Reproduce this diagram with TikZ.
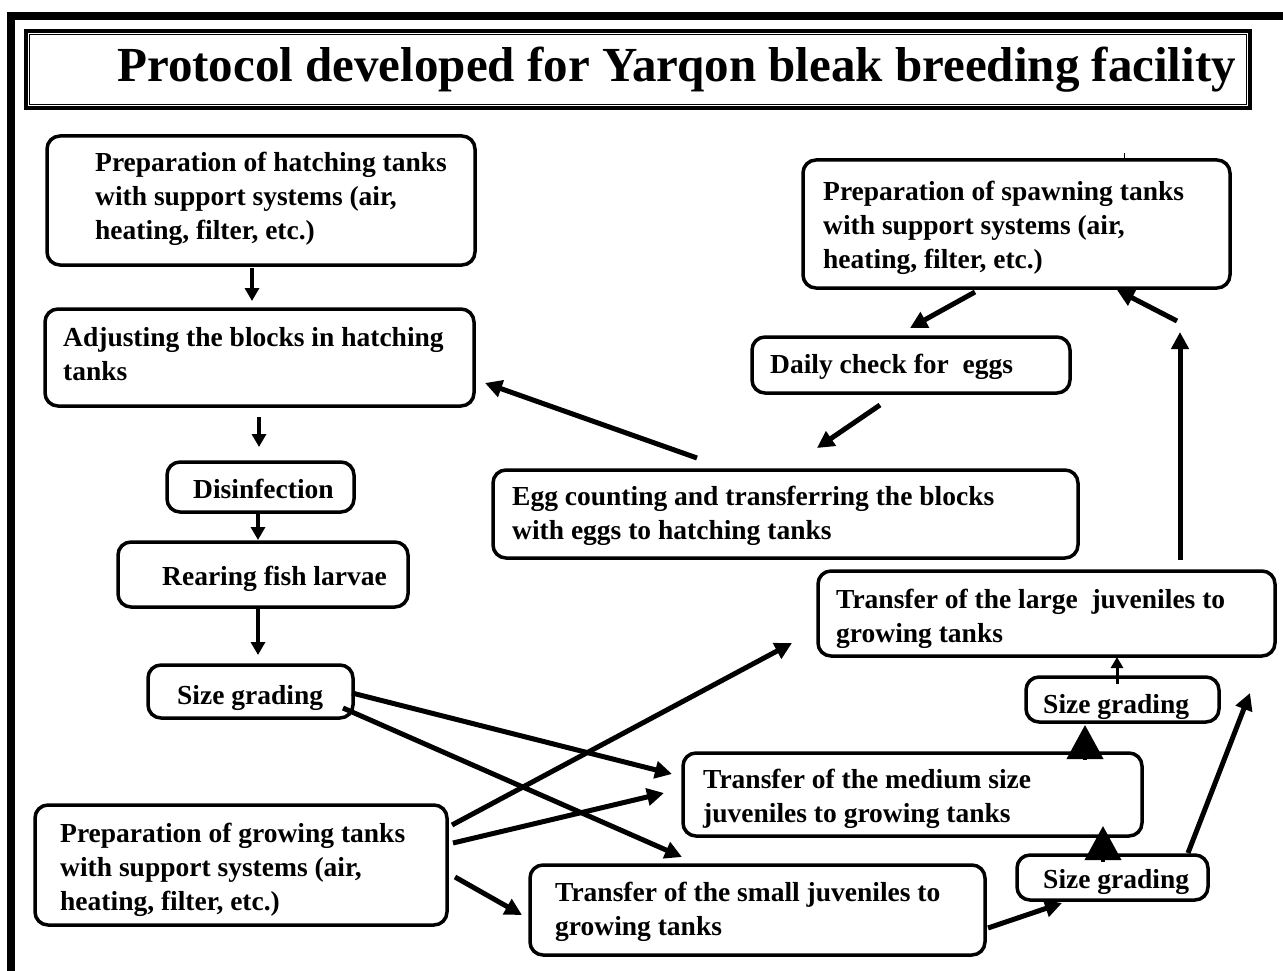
\documentclass[tikz,border=0pt]{standalone}
\usepackage{fontspec}
\setmainfont{Liberation Serif}
\usetikzlibrary{arrows.meta}
\begin{document}
\begin{tikzpicture}[x=1pt,y=-1pt,
  box/.style={draw,line width=3.5pt,rounded corners=13pt,inner sep=0pt,anchor=center},
  txt/.style={font=\bfseries\fontsize{27.5}{34}\selectfont,align=left,inner sep=0pt,anchor=base west},
  arr/.style={line width=5pt,-{Triangle[length=17pt,width=17pt]}},
  varr/.style={line width=4pt,-{Triangle[length=13pt,width=14pt]}},
  bigarr/.style={line width=4pt,-{Triangle[length=34pt,width=36pt]}}]
\useasboundingbox (0,0) rectangle (1283,971);
% outer frame
\draw[line width=8pt] (1283,16) -- (11,16) -- (11,971);
% title
\node[draw,line width=3.5pt,minimum width=1224pt,minimum height=77pt,inner sep=0pt] (title) at (638,69.5) {};
\draw[line width=1pt] (title.north west) ++(5,5) rectangle ([xshift=-5pt,yshift=5pt]title.south east);
\node[font=\bfseries\fontsize{49}{55}\selectfont,inner sep=0pt,anchor=base west] (titletxt) at (117,82) {Protocol developed for Yarqon bleak breeding facility};
% boxes (text nodes are anchored at the baseline of their last line)
\node[box,minimum width=428pt,minimum height=129pt] (n1) at (261,200.5) {};
\node[txt] (t1) at (95,239) {Preparation of hatching tanks\\with support systems (air,\\heating, filter, etc.)};
\node[box,minimum width=429pt,minimum height=97pt] (n2) at (259.5,357.5) {};
\node[txt] (t2) at (63,380) {Adjusting the blocks in hatching\\tanks};
\node[box,minimum width=187pt,minimum height=50pt] (n3) at (260.5,487) {};
\node[txt] (t3) at (193,498) {Disinfection};
\node[box,minimum width=290pt,minimum height=65pt] (n4) at (263,574.5) {};
\node[txt] (t4) at (162,585) {Rearing fish larvae};
\node[box,minimum width=205pt,minimum height=53pt] (n5) at (250.5,691.5) {};
\node[txt] (t5) at (177,704) {Size grading};
\node[box,minimum width=412pt,minimum height=120pt] (n6) at (241,865) {};
\node[txt] (t6) at (60,910) {Preparation of growing tanks\\with support systems (air,\\heating, filter, etc.)};
\node[box,minimum width=585pt,minimum height=88pt] (n7) at (785.5,514) {};
\node[txt] (t7) at (512,539) {Egg counting and transferring the blocks\\with eggs to hatching tanks};
\node[box,minimum width=318pt,minimum height=56pt] (n8) at (911,365) {};
\node[txt] (t8) at (770,373) {Daily check for\ \ eggs};
\node[box,minimum width=427pt,minimum height=128pt] (n9) at (1016.5,224) {};
\node[txt] (t9) at (823,268) {Preparation of spawning tanks\\with support systems (air,\\heating, filter, etc.)};
\node[box,minimum width=457pt,minimum height=85pt] (n10) at (1046.5,613.5) {};
\node[txt] (t10) at (836,642) {Transfer of the large\ \ juveniles to\\growing tanks};
\node[box,minimum width=193pt,minimum height=45pt] (n11) at (1122.5,699.5) {};
\node[txt] (t11) at (1043,713) {Size grading};
\node[box,minimum width=459pt,minimum height=83pt] (n12) at (912.5,794.5) {};
\node[txt] (t12) at (703,822) {Transfer of the medium size\\juveniles to growing tanks};
\node[box,minimum width=191pt,minimum height=45pt] (n13) at (1112.5,877.5) {};
\node[txt] (t13) at (1043,888) {Size grading};
\node[box,minimum width=455pt,minimum height=90pt] (n14) at (757.5,910) {};
\node[txt] (t14) at (555,935) {Transfer of the small juveniles to\\growing tanks};
% stray tick
\draw[line width=0.6pt] (1124,153) -- (1124,160);
% connector end points
\coordinate (c1a) at (252,268);  \coordinate (c1b) at (252,301);
\coordinate (c2a) at (259,417);  \coordinate (c2b) at (259,447);
\coordinate (c3a) at (258,513);  \coordinate (c3b) at (258,540);
\coordinate (c4a) at (258,608);  \coordinate (c4b) at (258,655);
\coordinate (c5a) at (975,292);  \coordinate (c5b) at (910,328);
\coordinate (c6a) at (880,405);  \coordinate (c6b) at (817,448);
\coordinate (c7a) at (697,458);  \coordinate (c7b) at (485,383);
\coordinate (c8a) at (352,693);  \coordinate (c8b) at (672,774);
\coordinate (c9a) at (343,708);  \coordinate (c9b) at (682,857);
\coordinate (c10a) at (452,825); \coordinate (c10b) at (792,643);
\coordinate (c11a) at (453,843); \coordinate (c11b) at (664,793);
\coordinate (c12a) at (455,877); \coordinate (c12b) at (522,915);
\coordinate (c13a) at (988,928); \coordinate (c13b) at (1062,903);
\coordinate (c14a) at (1103,862); \coordinate (c14b) at (1103,826);
\coordinate (c15a) at (1085,760); \coordinate (c15b) at (1085,725);
\coordinate (c16a) at (1117,684); \coordinate (c16b) at (1117,657);
\coordinate (c17a) at (1188,853); \coordinate (c17b) at (1250,693);
\coordinate (c18a) at (1180,560); \coordinate (c18b) at (1180,332);
\coordinate (c19a) at (1177,321); \coordinate (c19b) at (1117,290);
% connectors
\draw[varr] (c1a) -- (c1b);
\draw[varr] (c2a) -- (c2b);
\draw[varr] (c3a) -- (c3b);
\draw[varr] (c4a) -- (c4b);
\draw[arr] (c5a) -- (c5b);
\draw[arr] (c6a) -- (c6b);
\draw[arr] (c7a) -- (c7b);
\draw[arr] (c8a) -- (c8b);
\draw[arr] (c9a) -- (c9b);
\draw[arr] (c10a) -- (c10b);
\draw[arr] (c11a) -- (c11b);
\draw[arr] (c12a) -- (c12b);
\draw[arr] (c13a) -- (c13b);
\draw[bigarr] (c14a) -- (c14b);
\draw[bigarr] (c15a) -- (c15b);
\draw[line width=3pt,-{Triangle[length=11pt,width=12pt]}] (c16a) -- (c16b);
\draw[arr] (c17a) -- (c17b);
\draw[arr] (c18a) -- (c18b);
\draw[arr] (c19a) -- (c19b);
\end{tikzpicture}
\end{document}
